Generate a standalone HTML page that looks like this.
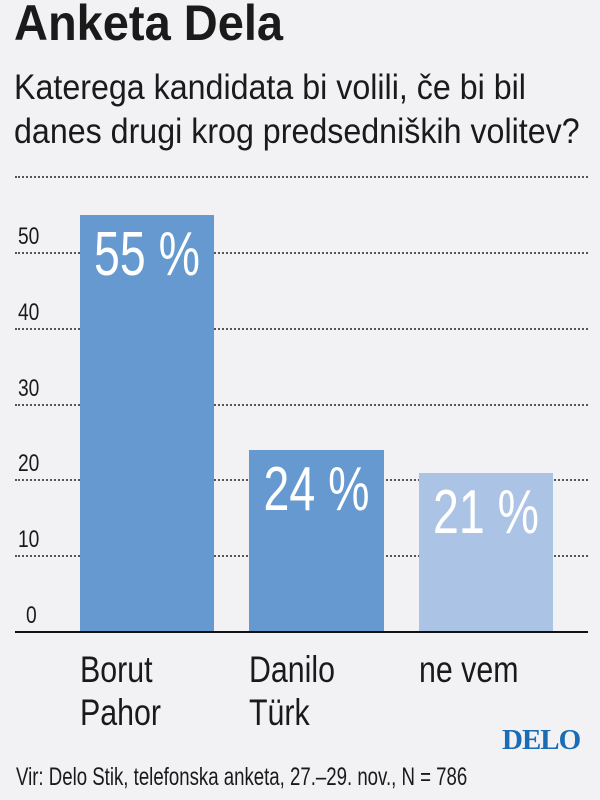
<!DOCTYPE html>
<html><head><meta charset="utf-8"><style>
body{margin:0;width:600px;height:800px;background:#f2f2f4;position:relative;overflow:hidden;font-family:"Liberation Sans",sans-serif;color:#1a1a1a}
.a{position:absolute;white-space:nowrap;transform-origin:0 0}
.g{position:absolute;left:15px;width:573px;border-top:2px dotted #555;height:0}
.t{position:absolute;left:18px;font-size:24px;transform:scaleX(.8);transform-origin:0 0}
.bar{position:absolute;background:#6699d0}
.v{position:absolute;left:-60px;right:-60px;text-align:center;color:#fff;font-size:62px;top:4px;transform:scaleX(.75);white-space:nowrap}
.lab{position:absolute;font-size:37px;line-height:43px;transform:scaleX(.82);transform-origin:0 0;white-space:nowrap}
</style></head><body>
<div class="a" style="left:14px;top:-6px;font-size:50px;font-weight:bold;transform:scaleX(.94)">Anketa Dela</div>
<div class="a" style="left:14px;top:66px;font-size:35px;line-height:44px;transform:scaleX(.92)">Katerega kandidata bi volili, če bi bil<br>danes drugi krog predsedniških volitev?</div>
<div class="g" style="top:176px"></div>
<div class="g" style="top:252px"></div>
<div class="g" style="top:328px"></div>
<div class="g" style="top:404px"></div>
<div class="g" style="top:479px"></div>
<div class="g" style="top:555px"></div>
<div class="t" style="top:223px">50</div>
<div class="t" style="top:299px">40</div>
<div class="t" style="top:375px">30</div>
<div class="t" style="top:450px">20</div>
<div class="t" style="top:526px">10</div>
<div class="t" style="top:602px;left:26px">0</div>
<div class="bar" style="left:80px;top:215px;width:134px;height:417px"><div class="v">55 %</div></div>
<div class="bar" style="left:249px;top:450px;width:135px;height:182px"><div class="v">24 %</div></div>
<div class="bar" style="left:419px;top:473px;width:134px;height:159px;background:#abc4e6"><div class="v">21 %</div></div>
<div style="position:absolute;left:15px;top:631px;width:573px;height:2px;background:#111"></div>
<div class="lab" style="left:80px;top:648px">Borut<br>Pahor</div>
<div class="lab" style="left:249px;top:648px">Danilo<br>Türk</div>
<div class="lab" style="left:419px;top:648px">ne vem</div>
<div class="a" style="left:502px;top:724px;font-family:'Liberation Serif',serif;font-weight:bold;font-size:29px;color:#1a6cb5;letter-spacing:-1px">DELO</div>
<div class="a" style="left:16px;top:763px;font-size:25px;transform:scaleX(.745)">Vir: Delo Stik, telefonska anketa, 27.–29. nov., N = 786</div>
</body></html>
